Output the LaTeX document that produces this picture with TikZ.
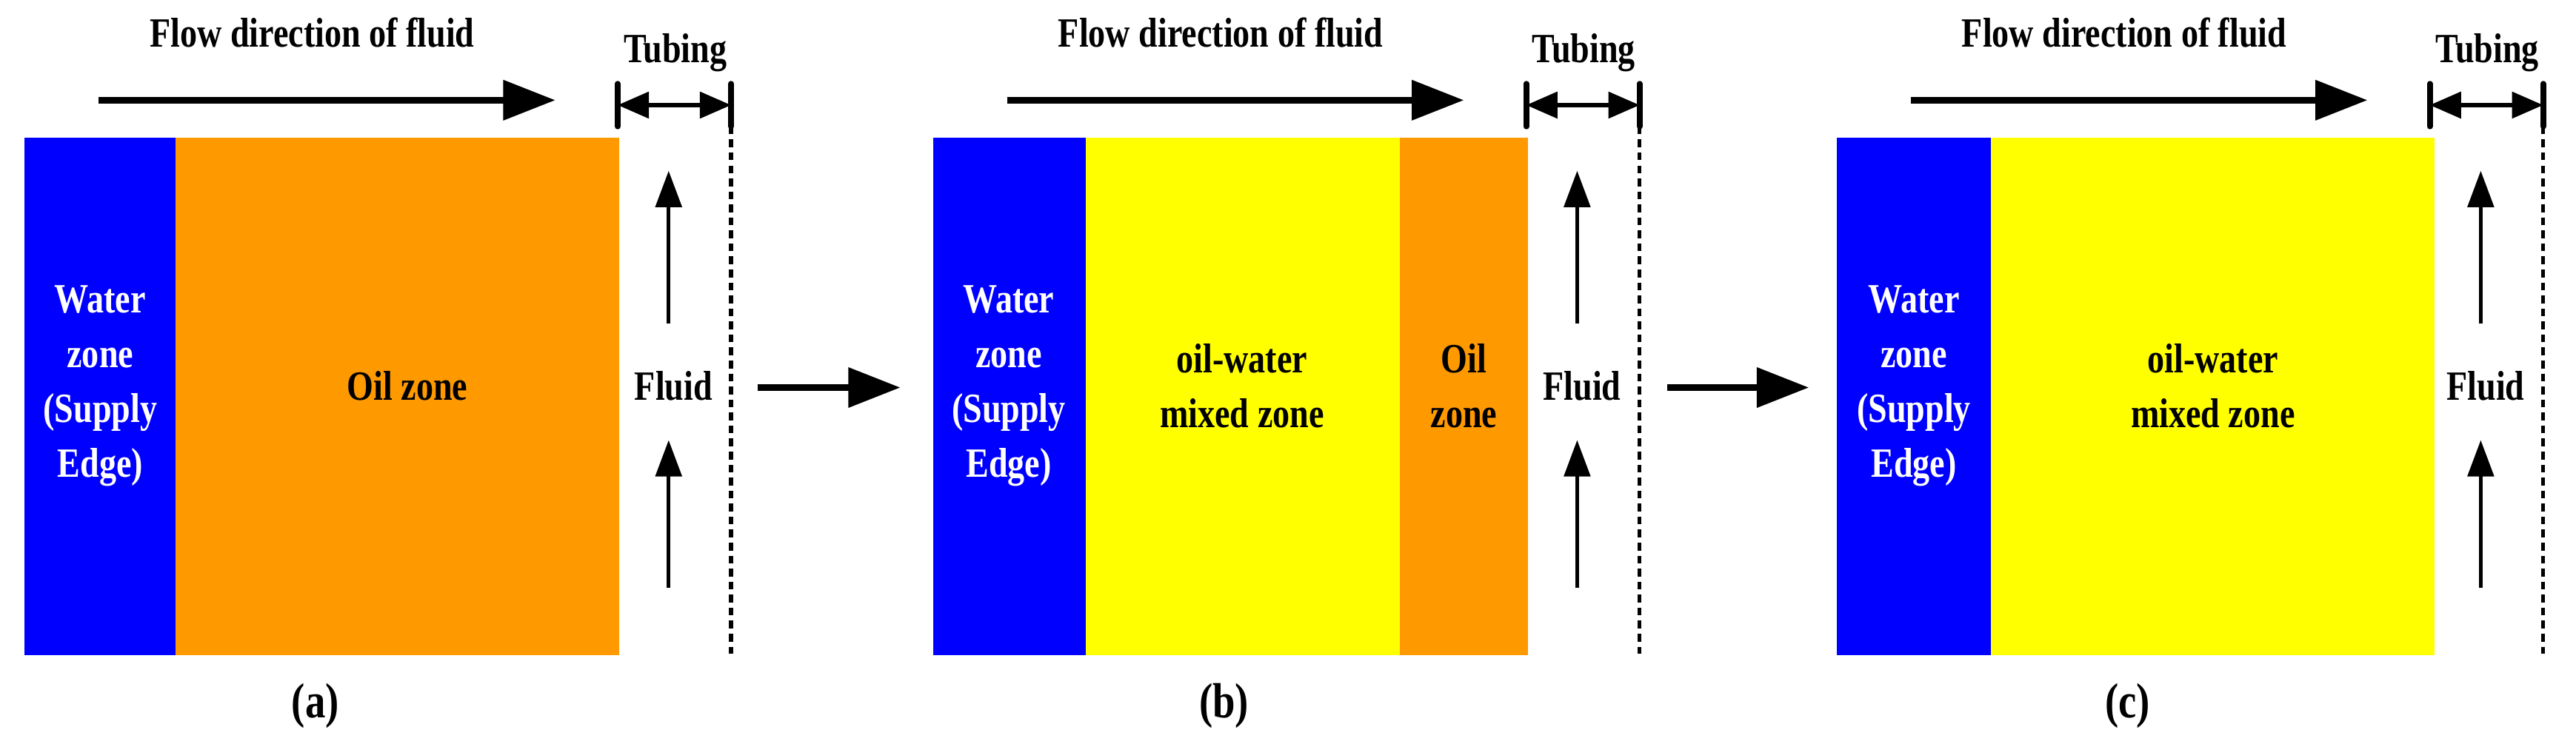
\documentclass[tikz,border=0pt]{standalone}
\usepackage{fontspec}
\setmainfont{Liberation Serif}[FakeStretch=0.82]
\usetikzlibrary{arrows.meta}
\definecolor{wblue}{RGB}{0,0,255}
\definecolor{oil}{RGB}{255,153,0}
\definecolor{mix}{RGB}{255,255,0}
\begin{document}
\begin{tikzpicture}[x=0.02218cm,y=-0.02218cm,
  txt/.style={font=\fontsize{16}{21}\selectfont\bfseries,align=center,inner sep=0},
  big/.style={line width=2.4pt,-{Triangle[length=20pt,width=15pt]}},
  up/.style={line width=1.5pt,-{Triangle[length=14pt,width=10pt]}},
  bar/.style={line width=2.2pt,line cap=round},
  dbl/.style={line width=1.6pt,{Triangle[length=12pt,width=10pt]}-{Triangle[length=12pt,width=10pt]}},
  tubeline/.style={line width=1.5pt,densely dashed}]
\useasboundingbox (0,0) rectangle (1568,453);
% panels
\foreach \o/\lab/\p in {0/a/A,553/b/B,1103/c/C}{
\begin{scope}[xshift=\o*0.02218cm]
  \node[txt] (t\p) at (190,20) {Flow direction of fluid};
  \coordinate (fs\p) at (60,61); \coordinate (fe\p) at (338,61);
  \draw[big] (fs\p) -- (fe\p);
  \node[txt] (tb\p) at (411,32) {Tubing};
  \coordinate (b1t\p) at (376,51); \coordinate (b1b\p) at (376,77);
  \coordinate (b2t\p) at (445,51); \coordinate (b2b\p) at (445,77);
  \draw[bar] (b1t\p) -- (b1b\p); \draw[bar] (b2t\p) -- (b2b\p);
  \draw[dbl] (376,64) -- (445,64);
  \coordinate (dt\p) at (445,77); \coordinate (db\p) at (445,398);
  \draw[tubeline] (dt\p) -- (db\p);
  \node[txt] (fl\p) at (410,235) {Fluid};
  \coordinate (u1s\p) at (407,197); \coordinate (u1e\p) at (407,104);
  \coordinate (u2s\p) at (407,358); \coordinate (u2e\p) at (407,268);
  \draw[up] (u1s\p) -- (u1e\p); \draw[up] (u2s\p) -- (u2e\p);
  \node[txt,font=\fontsize{19}{21}\selectfont\bfseries] (cap\p) at (192,430) {(\lab)};
\end{scope}}
% panel a
\fill[wblue] (15,84) rectangle (107,399);
\fill[oil] (107,84) rectangle (377,399);
\node[txt,text=white] (wA) at (61,235) {Water\\zone\\(Supply\\Edge)};
\node[txt] (oA) at (248,235) {Oil zone};
% panel b
\fill[wblue] (568,84) rectangle (661,399);
\fill[mix] (661,84) rectangle (852,399);
\fill[oil] (852,84) rectangle (930,399);
\node[txt,text=white] (wB) at (614,235) {Water\\zone\\(Supply\\Edge)};
\node[txt] (mB) at (756,235) {oil-water\\mixed zone};
\node[txt] (oB) at (891,235) {Oil\\zone};
% panel c
\fill[wblue] (1118,84) rectangle (1212,399);
\fill[mix] (1212,84) rectangle (1482,399);
\node[txt,text=white] (wC) at (1165,235) {Water\\zone\\(Supply\\Edge)};
\node[txt] (mC) at (1347,235) {oil-water\\mixed zone};
% between arrows
\coordinate (s1) at (461,236); \coordinate (e1) at (548,236);
\coordinate (s2) at (1015,236); \coordinate (e2) at (1101,236);
\draw[big] (s1) -- (e1); \draw[big] (s2) -- (e2);
\end{tikzpicture}
\end{document}
